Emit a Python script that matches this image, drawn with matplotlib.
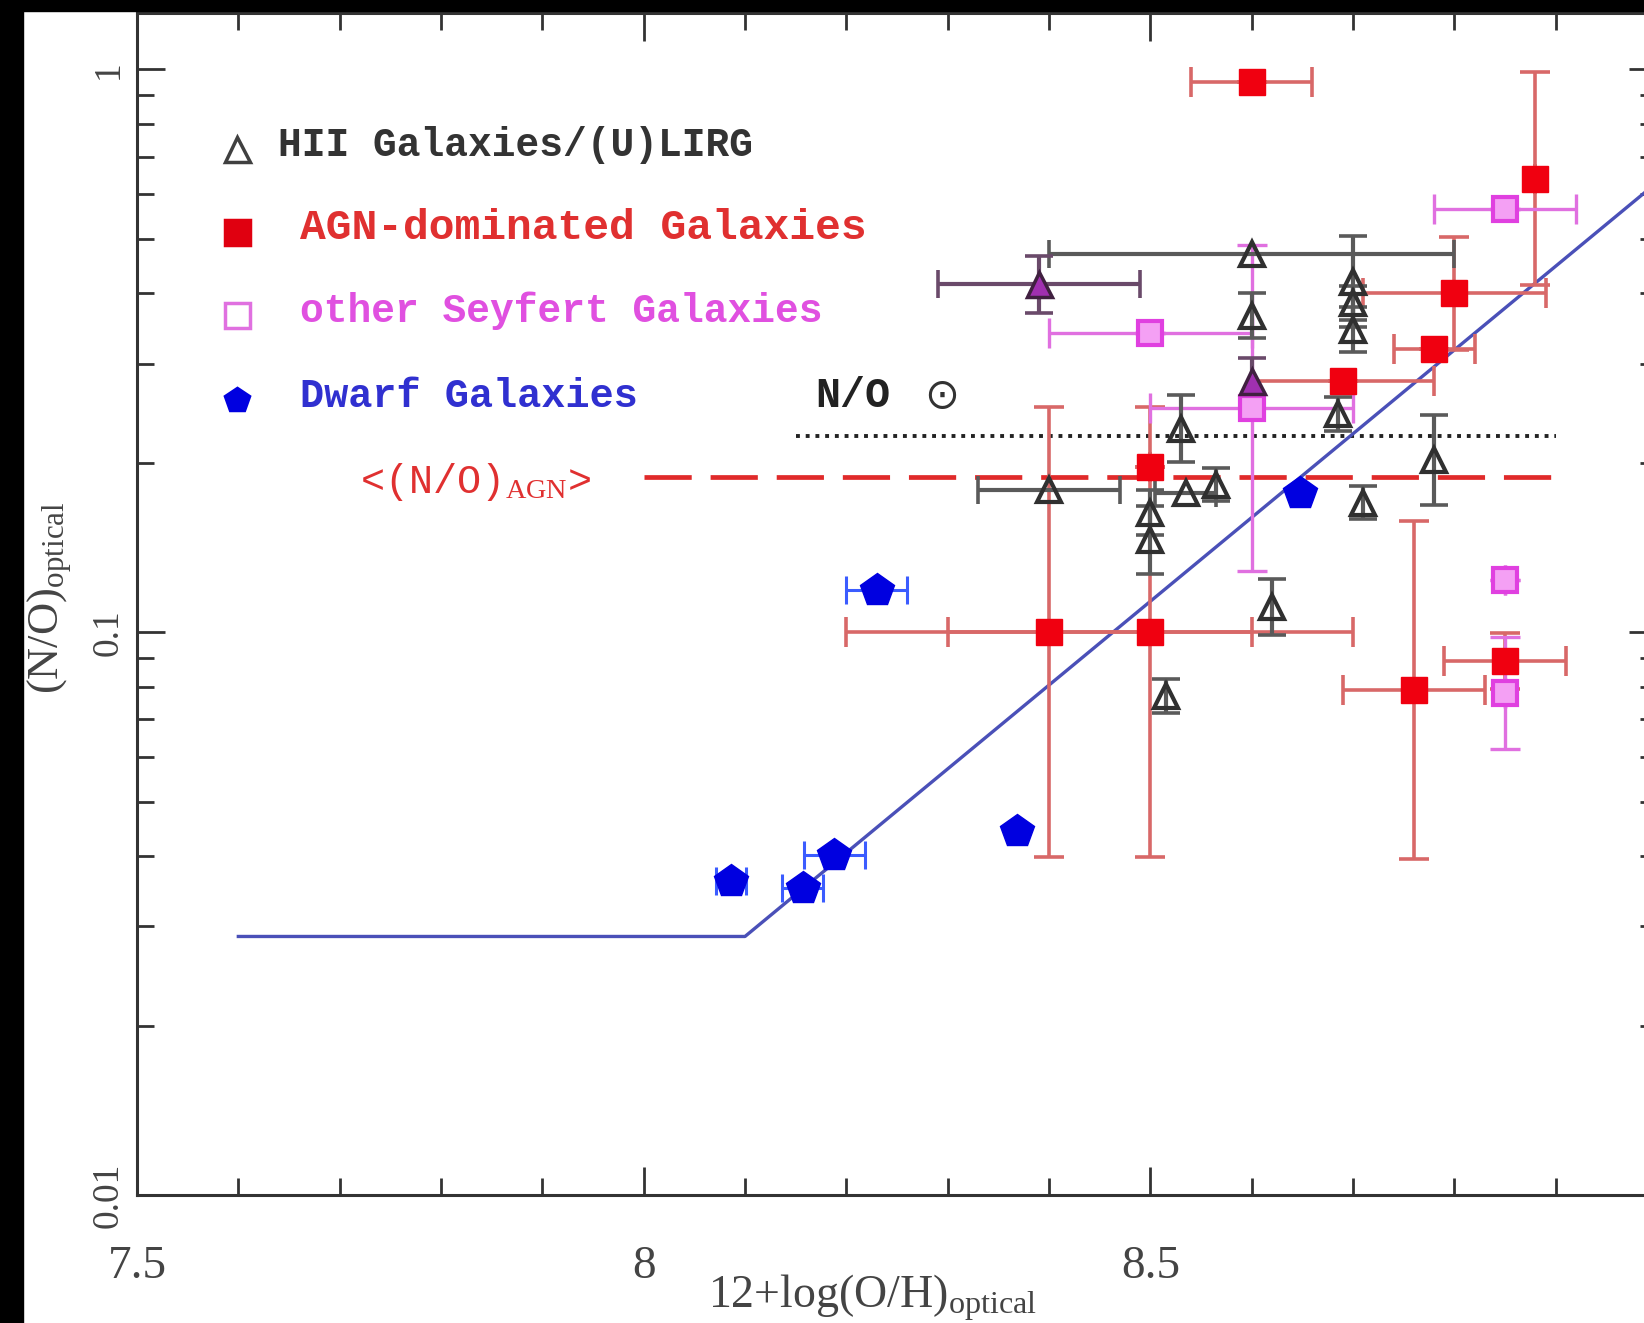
import numpy as np
import matplotlib
matplotlib.use("Agg")
import matplotlib.pyplot as plt
from matplotlib.patches import Rectangle
from matplotlib.ticker import FixedLocator, MultipleLocator, LogLocator, NullFormatter

plt.rcParams['mathtext.fontset'] = 'custom'
plt.rcParams['mathtext.rm'] = 'Liberation Serif'
plt.rcParams['mathtext.it'] = 'Liberation Serif:italic'
plt.rcParams['mathtext.bf'] = 'Liberation Serif:bold'

MONO = ['Liberation Mono', 'DejaVu Sans Mono', 'DejaVu Sans']
SERIF = ['Liberation Serif', 'DejaVu Serif']

# ---- HII galaxies / (U)LIRGs: 12+log(O/H), N/O, x error, y error (dex)
hii_oh = [8.60, 8.60, 8.70, 8.70, 8.70, 8.685, 8.40, 8.53, 8.535, 8.565, 8.50, 8.50, 8.515, 8.62, 8.71, 8.78]
hii_no = [0.47, 0.365, 0.42, 0.385, 0.345, 0.244, 0.179, 0.23, 0.177, 0.183, 0.163, 0.146, 0.077, 0.111, 0.170, 0.202]
hii_xerr = [0.20, 0.0, 0.0, 0.0, 0.0, 0.0, 0.07, 0.0, 0.03, 0.0, 0.0, 0.0, 0.0, 0.0, 0.0, 0.0]
hii_yerr = [0.0, 0.04, 0.08, 0.03, 0.04, 0.03, 0.0, 0.06, 0.0, 0.03, 0.04, 0.06, 0.03, 0.05, 0.03, 0.08]

# ---- HII-type hosts also classified as Seyfert (magenta filled triangles)
mix_oh = [8.39, 8.60]
mix_no = [0.415, 0.28]
mix_xerr = [0.10, 0.0]
mix_yerr = [0.05, 0.04]

# ---- AGN-dominated galaxies
agn_oh = [8.60, 8.88, 8.80, 8.78, 8.69, 8.50, 8.40, 8.50, 8.76, 8.85]
agn_no = [0.95, 0.64, 0.40, 0.318, 0.28, 0.197, 0.10, 0.10, 0.079, 0.089]
agn_xerr = [0.06, 0.0, 0.09, 0.04, 0.09, 0.0, 0.20, 0.20, 0.07, 0.06]
agn_yerr = [0.0, 0.19, 0.10, 0.0, 0.0, 0.0, 0.40, 0.40, 0.30, 0.05]

# ---- other Seyfert galaxies
sey_oh = [8.85, 8.50, 8.60, 8.85, 8.85]
sey_no = [0.565, 0.34, 0.25, 0.124, 0.078]
sey_xerr = [0.07, 0.10, 0.10, 0.0, 0.0]
sey_yerr = [0.0, 0.0, 0.29, 0.0, 0.10]

# ---- dwarf galaxies
dw_oh = [8.086, 8.157, 8.188, 8.23, 8.368, 8.648]
dw_no = [0.0361, 0.0351, 0.0402, 0.119, 0.0444, 0.177]
dw_xerr = [0.015, 0.02, 0.03, 0.03, 0.0, 0.0]

# ---- reference levels and the N/O vs O/H relation
solar_no = 0.223
solar_span = [8.15, 8.90]
agn_mean_no = 0.189
agn_mean_span = [8.00, 8.90]
rel_oh = [7.60, 8.10, 9.00]
rel_no = [0.0288, 0.0288, 0.63]


def log_err(y, d):
    y = np.asarray(y, float)
    d = np.asarray(d, float)
    return np.vstack([y - y * 10 ** (-d), y * 10 ** d - y])


fig = plt.figure(figsize=(16.44, 13.23), dpi=100)
fig.patch.set_facecolor('white')
ax = fig.add_axes([137 / 1644, 128 / 1323, 1520 / 1644, 1182 / 1323])
ax.set_xscale('linear')
ax.set_yscale('log')
ax.set_xlim(7.5, 9.0)
ax.set_ylim(0.01, 1.26)

# reference lines
ax.plot(solar_span, [solar_no, solar_no], color='#222222', lw=2.8,
        ls=(0, (1, 1.5)), zorder=2)
ax.plot(agn_mean_span, [agn_mean_no, agn_mean_no], color='#e02a2a', lw=3.4,
        ls=(0, (10, 4)), zorder=2)
ax.plot(rel_oh, rel_no, color='#4a50b8', lw=2.4, zorder=3)

# error bars
ax.errorbar(agn_oh, agn_no, xerr=agn_xerr, yerr=log_err(agn_no, agn_yerr),
            fmt='none', ecolor='#d86868', elinewidth=2.6, capsize=11,
            capthick=2.6, zorder=3)
ax.errorbar(sey_oh, sey_no, xerr=sey_xerr, yerr=log_err(sey_no, sey_yerr),
            fmt='none', ecolor='#e070e0', elinewidth=2.4, capsize=11,
            capthick=2.4, zorder=3)
ax.errorbar(hii_oh, hii_no, xerr=hii_xerr, yerr=log_err(hii_no, hii_yerr),
            fmt='none', ecolor='#5a5a5a', elinewidth=3.0, capsize=10,
            capthick=2.6, zorder=4)
ax.errorbar(mix_oh, mix_no, xerr=mix_xerr, yerr=log_err(mix_no, mix_yerr),
            fmt='none', ecolor='#6a4a6a', elinewidth=3.0, capsize=10,
            capthick=2.6, zorder=4)
ax.errorbar(dw_oh, dw_no, xerr=dw_xerr, fmt='none', ecolor='#3b5cff',
            elinewidth=2.2, capsize=10, capthick=2.2, zorder=4)

# markers
ax.plot(agn_oh, agn_no, 's', ms=19, mfc='#f00010', mec='#f00010', zorder=5)
ax.plot(sey_oh, sey_no, 's', ms=17, mfc='#f4a0f4', mec='#e040e0', mew=3, zorder=5)
ax.plot(hii_oh, hii_no, '^', ms=17, mfc='none', mec='#303030', mew=3, zorder=6)
ax.plot(mix_oh, mix_no, '^', ms=18, mfc='#a030b0', mec='#402040', mew=2.5, zorder=6)
ax.plot(dw_oh, dw_no, 'p', ms=25, mfc='#0000e0', mec='#0000e0', zorder=6)

# axes styling
for s in ax.spines.values():
    s.set_color('#333333')
    s.set_linewidth(2.2)
ax.xaxis.set_major_locator(FixedLocator([7.5, 8.0, 8.5, 9.0]))
ax.set_xticklabels(['7.5', '8', '8.5', '9'])
ax.xaxis.set_minor_locator(MultipleLocator(0.1))
ax.yaxis.set_major_locator(FixedLocator([0.01, 0.1, 1.0]))
ax.set_yticklabels(['0.01', '0.1', '1'], rotation=90, va='center')
ax.yaxis.set_minor_locator(LogLocator(base=10, subs=np.arange(2, 10)))
ax.yaxis.set_minor_formatter(NullFormatter())
ax.tick_params(which='both', direction='in', top=True, right=True,
               color='#333333', width=2)
ax.tick_params(which='major', length=20)
ax.tick_params(which='minor', length=12)
ax.tick_params(axis='x', which='major', pad=36, labelsize=34)
ax.tick_params(axis='y', which='major', pad=8, labelsize=27)
for lab in ax.get_xticklabels() + ax.get_yticklabels():
    lab.set_family(SERIF)
    lab.set_color('#444444')

# axis titles
fig.text(873 / 1644, 1 - 1298 / 1323, r'12+log(O/H)$_{\rm optical}$',
         family=SERIF, fontsize=33, color='#444444', ha='center', va='center')
fig.text(50 / 1644, 1 - 598 / 1323, r'(N/O)$_{\rm optical}$', rotation=90,
         family=SERIF, fontsize=32, color='#444444', ha='center', va='center')

# legend drawn as marker + label rows
legend_rows = [
    ('^', 'none', '#404040', 'HII Galaxies/(U)LIRG', '#333333', 145, 28.5),
    ('s', '#e00010', '#e00010', 'AGN-dominated Galaxies', '#e03030', 228, 31),
    ('s', 'none', '#e070e0', 'other Seyfert Galaxies', '#e050e0', 311, 28.5),
    ('p', '#0000e0', '#0000e0', 'Dwarf Galaxies', '#3030d0', 396, 29),
]
for mk, fc, ec, txt, tc, ypix, fs in legend_rows:
    yf = 1 - ypix / 1323
    fig.lines.append(plt.Line2D([237 / 1644], [yf - 0.003], marker=mk, ms=18,
                                mfc=fc, mec=ec, mew=2.5, ls='none',
                                transform=fig.transFigure))
    fig.text((278 if mk == '^' else 300) / 1644, yf, txt, family=MONO,
             weight='bold', fontsize=fs, color=tc, ha='left', va='center')

fig.text(815 / 1644, 1 - 396 / 1323, 'N/O', family=MONO, weight='bold',
         fontsize=30, color='#222222', ha='left', va='center')
fig.text(942 / 1644, 1 - 396 / 1323, '\u2299', family=['DejaVu Sans'],
         fontsize=30, color='#333333', ha='center', va='center')
fig.text(360 / 1644, 1 - 482 / 1323, r'<(N/O)$_{\rm AGN}$>', family=MONO,
         fontsize=29, color='#e03030', ha='left', va='center')

# dark frame around the panel
fig.patches.append(Rectangle((0, 0), 23 / 1644, 1, transform=fig.transFigure,
                             color='black', zorder=10))
fig.patches.append(Rectangle((0, 1 - 11 / 1323), 1, 11 / 1323,
                             transform=fig.transFigure, color='black', zorder=10))

fig.savefig('out.png', dpi=100)
